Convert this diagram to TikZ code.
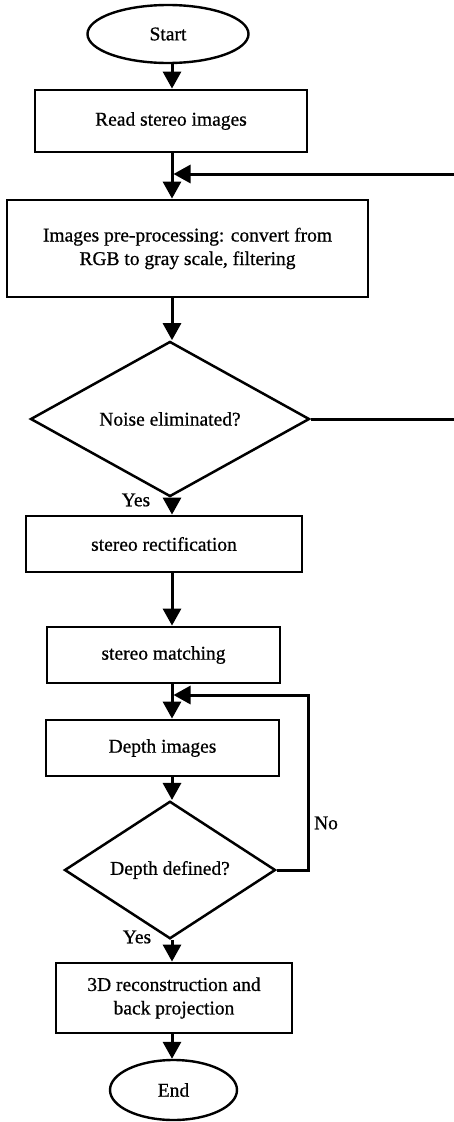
\documentclass[tikz,border=0pt]{standalone}
\usepackage{fontspec}
\setmainfont{Liberation Serif}[FakeBold=0.7]
\usetikzlibrary{shapes.geometric,arrows.meta}
\begin{document}
\begin{tikzpicture}[x=1pt,y=-1pt,
  every node/.style={font=\fontsize{19.5}{23.5}\selectfont},
  box/.style={draw,line width=2.8pt,rectangle,inner sep=0pt,align=center},
  term/.style={draw,line width=2.4pt,ellipse,inner sep=0pt},
  decision/.style={draw,line width=2.5pt,diamond,inner sep=0pt},
  arr/.style={line width=3pt,-{Triangle[length=17pt,width=18pt]}},
  lbl/.style={inner sep=0pt}]
\clip (0,0) rectangle (454,1122);
\fill[white] (0,0) rectangle (454,1122);
\coordinate (ax) at (172,0);
\coordinate (axr) at (173.5,0);

\node[term,minimum width=161pt,minimum height=58pt] (start) at (168,34) {Start};
\node[box,minimum width=272pt,minimum height=62pt] (read) at (171,121) {Read stereo images};
\node[box,minimum width=361pt,minimum height=97pt] (pre) at (187.5,248.5) {Images pre-processing: convert from\\RGB to gray scale, filtering};
\node[decision,minimum width=279pt,minimum height=136pt] (noise) at (170,419) {Noise eliminated?};
\node[box,minimum width=276pt,minimum height=56pt] (rect) at (164,544) {stereo rectification};
\node[box,minimum width=233pt,minimum height=56pt] (match) at (163.5,655) {stereo matching};
\node[box,minimum width=233pt,minimum height=56pt] (depth) at (162.5,748) {Depth images};
\node[decision,minimum width=211pt,minimum height=109pt] (dd) at (170,870) {Depth defined?};
\node[box,minimum width=236pt,minimum height=70pt] (recon) at (174,998) {3D reconstruction and\\back projection};
\node[term,minimum width=127pt,minimum height=60pt] (end) at (173.5,1090) {End};

\node[lbl] (yes1) at (136,500) {Yes};
\node[lbl] (yes2) at (137,937) {Yes};
\node[lbl] (no) at (326,823) {No};

\draw[arr] (start.south -| ax) -- (read.north -| ax);
\draw[arr] (read.south -| ax) -- (pre.north -| ax);
\draw[arr] (pre.south -| ax) -- (noise.north -| ax);
\draw[arr] (noise.south -| ax) -- (rect.north -| ax);
\draw[arr] (rect.south -| ax) -- (match.north -| ax);
\draw[arr] (match.south -| ax) -- (depth.north -| ax);
\draw[arr] (depth.south -| ax) -- (dd.north -| ax);
\draw[arr] (dd.south -| ax) -- (recon.north -| ax);
\draw[arr] (recon.south -| ax) -- (end.north -| ax);

\coordinate (loopA) at (470,174);
\draw[arr] (noise.east) -| (loopA) -- (loopA -| axr);
\coordinate (loopB) at (308,695);
\draw[arr] (dd.east) -| (loopB) -- (loopB -| axr);
\end{tikzpicture}
\end{document}
